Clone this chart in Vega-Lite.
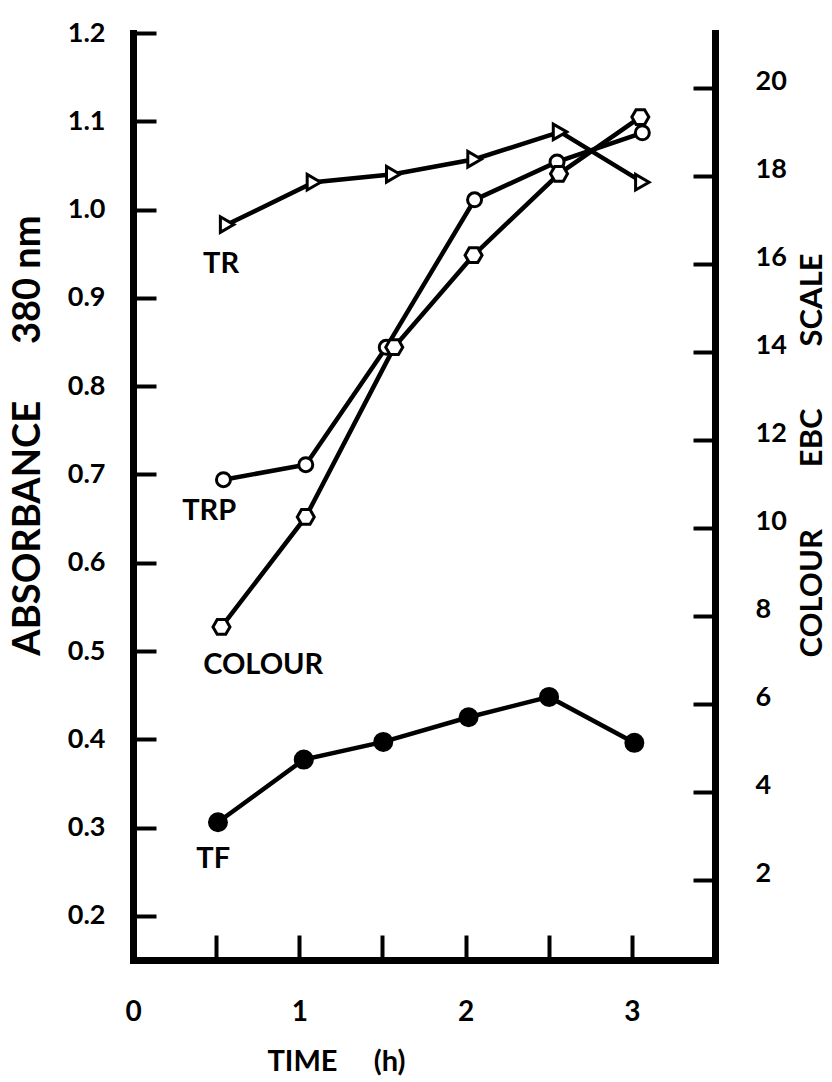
{
  "$schema": "https://vega.github.io/schema/vega-lite/v6.json",
  "width": 582,
  "height": 927,
  "autosize": {"type": "none"},
  "padding": {"left": 133, "top": 33, "right": 117, "bottom": 122},
  "background": "white",
  "config": {
    "view": {"stroke": null},
    "font": "Lato",
    "axis": {
      "grid": false,
      "domainColor": "black",
      "tickColor": "black",
      "labelColor": "black",
      "titleColor": "black",
      "labelFont": "Lato",
      "titleFont": "Lato",
      "labelFontWeight": "bold",
      "titleFontWeight": "bold",
      "domainWidth": 7,
      "tickWidth": 4,
      "labelFlush": false,
      "labelOverlap": false,
      "domainCap": "square"
    }
  },
  "layer": [
    {
      "data": {
        "values": [
          {"series": "TR", "time": 0.566, "abs": 0.983},
          {"series": "TR", "time": 1.088, "abs": 1.031},
          {"series": "TR", "time": 1.565, "abs": 1.040},
          {"series": "TR", "time": 2.054, "abs": 1.057},
          {"series": "TR", "time": 2.568, "abs": 1.088},
          {"series": "TR", "time": 3.063, "abs": 1.031},
          {"series": "TRP", "time": 0.544, "abs": 0.694},
          {"series": "TRP", "time": 1.039, "abs": 0.711},
          {"series": "TRP", "time": 1.523, "abs": 0.844},
          {"series": "TRP", "time": 2.054, "abs": 1.011},
          {"series": "TRP", "time": 2.550, "abs": 1.054},
          {"series": "TRP", "time": 3.063, "abs": 1.087},
          {"series": "TF", "time": 0.511, "abs": 0.306},
          {"series": "TF", "time": 1.027, "abs": 0.377},
          {"series": "TF", "time": 1.505, "abs": 0.397},
          {"series": "TF", "time": 2.018, "abs": 0.425},
          {"series": "TF", "time": 2.502, "abs": 0.448},
          {"series": "TF", "time": 3.015, "abs": 0.396}
        ]
      },
      "encoding": {
        "x": {
          "field": "time",
          "type": "quantitative",
          "scale": {"domain": [0, 3.5], "nice": false, "zero": false},
          "axis": {
            "orient": "bottom",
            "title": "TIME\u2003\u2002(h)",
            "values": [0, 0.5, 1, 1.5, 2, 2.5, 3],
            "labelExpr": "datum.value % 1 == 0 ? format(datum.value, 'd') : ''",
            "tickSize": -25,
            "labelPadding": 63,
            "labelFontSize": 28,
            "titleFontSize": 29,
            "titleX": 203,
            "titleY": 110,
            "titleBaseline": "alphabetic",
            "titleAlign": "center"
          }
        },
        "y": {
          "field": "abs",
          "type": "quantitative",
          "scale": {"domain": [0.15, 1.2], "nice": false, "zero": false},
          "axis": {
            "orient": "left",
            "title": "ABSORBANCE\u2003\u2003380 nm",
            "values": [0.2, 0.3, 0.4, 0.5, 0.6, 0.7, 0.8, 0.9, 1.0, 1.1, 1.2],
            "format": ".1f",
            "tickSize": -23,
            "labelPadding": 51,
            "labelFontSize": 27,
            "titleFontSize": 38,
            "titleAngle": 270,
            "titleX": -94,
            "titleY": 402,
            "titleBaseline": "alphabetic",
            "titleAlign": "center"
          }
        }
      },
      "layer": [
        {
          "mark": {"type": "line", "color": "black", "strokeWidth": 4.5},
          "encoding": {"detail": {"field": "series", "type": "nominal"}}
        },
        {
          "mark": {"type": "point", "filled": true, "stroke": "black", "strokeWidth": 3, "opacity": 1},
          "encoding": {
            "shape": {"field": "series", "type": "nominal", "scale": {"domain": ["TF", "TR", "TRP"], "range": ["circle", "triangle-right", "circle"]}, "legend": null},
            "fill": {"field": "series", "type": "nominal", "scale": {"domain": ["TF", "TR", "TRP"], "range": ["black", "white", "white"]}, "legend": null},
            "size": {"field": "series", "type": "nominal", "scale": {"domain": ["TF", "TR", "TRP"], "range": [289, 196, 196]}, "legend": null}
          }
        },
        {
          "data": {
            "values": [
              {"label": "TR", "time": 0.53, "abs": 0.938},
              {"label": "TRP", "time": 0.458, "abs": 0.659},
              {"label": "COLOUR", "time": 0.783, "abs": 0.484},
              {"label": "TF", "time": 0.482, "abs": 0.264}
            ]
          },
          "mark": {"type": "text", "font": "Lato", "fontWeight": "bold", "fontSize": 29, "color": "black", "align": "center", "baseline": "middle"},
          "encoding": {"text": {"field": "label", "type": "nominal"}}
        }
      ]
    },
    {
      "data": {
        "values": [
          {"time": 0.532, "ebc": 7.75},
          {"time": 1.039, "ebc": 10.25},
          {"time": 1.571, "ebc": 14.11},
          {"time": 2.048, "ebc": 16.2},
          {"time": 2.562, "ebc": 18.05},
          {"time": 3.051, "ebc": 19.34}
        ]
      },
      "encoding": {
        "x": {"field": "time", "type": "quantitative", "scale": {"domain": [0, 3.5], "nice": false, "zero": false}},
        "y": {
          "field": "ebc",
          "type": "quantitative",
          "scale": {"domain": [0.18, 21.25], "nice": false, "zero": false},
          "axis": {
            "orient": "right",
            "title": "COLOUR\u2003\u2003\u2002EBC\u2003\u2003\u2002SCALE",
            "values": [2, 4, 6, 8, 10, 12, 14, 16, 18, 20],
            "format": "d",
            "tickSize": -22,
            "labelPadding": 62,
            "labelOffset": -6,
            "labelFontSize": 27,
            "titleFontSize": 31,
            "titleAngle": 270,
            "titleX": 106,
            "titleY": 422,
            "titleBaseline": "alphabetic",
            "titleAlign": "center"
          }
        }
      },
      "layer": [
        {"mark": {"type": "line", "color": "black", "strokeWidth": 4.5}},
        {"mark": {"type": "point", "shape": "M-1,0L-0.5,-0.866L0.5,-0.866L1,0L0.5,0.866L-0.5,0.866Z", "size": 289, "filled": true, "fill": "white", "stroke": "black", "strokeWidth": 3, "opacity": 1}}
      ]
    }
  ],
  "resolve": {"scale": {"y": "independent"}}
}
